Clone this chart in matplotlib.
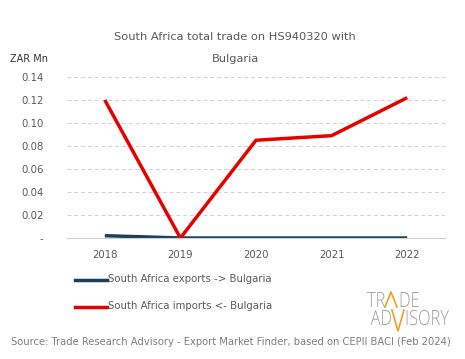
import matplotlib.pyplot as plt
from matplotlib.lines import Line2D
from matplotlib.textpath import TextPath
from matplotlib.patches import PathPatch
from matplotlib.font_manager import FontProperties
from matplotlib.transforms import Affine2D

years = ["2018", "2019", "2020", "2021", "2022"]
exports = [0.002, 0.0, 0.0, 0.0, 0.0]
imports = [0.120, 0.0, 0.085, 0.089, 0.122]
yticks = [0, 0.02, 0.04, 0.06, 0.08, 0.10, 0.12, 0.14]
ylabels = ["-", "0.02", "0.04", "0.06", "0.08", "0.10", "0.12", "0.14"]

plt.rcParams['font.family'] = ['DejaVu Sans']
txt = '#595959'
W, H = 465, 359


def fx(v):
    return v / W


def fy(v):
    return 1 - v / H


fig = plt.figure(figsize=(4.65, 3.59), dpi=100)
ax = fig.add_axes([fx(67), fy(238), 378 / W, 161 / H])

x = range(len(years))
ax.plot(x, exports, color='#1b3f5a', lw=2.5, solid_capstyle='butt')
ax.plot(x, imports, color='#e60000', lw=2.5, solid_capstyle='butt')

ax.set_xlim(-0.5, 4.5)
ax.set_ylim(0, 0.14)
ax.set_xticks(list(x))
ax.set_xticklabels(years)
ax.set_yticks(yticks)
ax.set_yticklabels(ylabels)
ax.tick_params(length=0, labelsize=7.3, colors=txt)
ax.tick_params(axis='x', pad=9)
ax.tick_params(axis='y', pad=17)
ax.grid(axis='y', color='#d0d0d0', ls=(0, (4, 3)), lw=0.7)
ax.set_axisbelow(True)
for s in ['top', 'right', 'left']:
    ax.spines[s].set_visible(False)
ax.spines['bottom'].set_color('#d0d0d0')
ax.spines['bottom'].set_linewidth(0.8)

fig.text(fx(235), fy(37), "South Africa total trade on HS940320 with",
         ha='center', va='center', fontsize=8.2, color=txt)
fig.text(fx(235), fy(59), "Bulgaria", ha='center', va='center',
         fontsize=8.2, color=txt)
fig.text(fx(10), fy(59), "ZAR Mn", ha='left', va='center',
         fontsize=7, color='#333333')

# legend
for yy, c, lab in [(280, '#1b3f5a', "South Africa exports -> Bulgaria"),
                   (307, '#e60000', "South Africa imports <- Bulgaria")]:
    fig.add_artist(Line2D([fx(75), fx(107)], [fy(yy), fy(yy)],
                          color=c, lw=2.5, transform=fig.transFigure))
    fig.text(fx(108), fy(yy - 1), lab, ha='left', va='center',
             fontsize=7.3, color=txt)

fig.text(fx(11), fy(342),
         "Source: Trade Research Advisory - Export Market Finder, based on CEPII BACI (Feb 2024)",
         ha='left', va='center', fontsize=7.2, color='#7f7f7f')

# logo: condensed light lettering drawn as paths
grey = '#a0a0a0'
orange = '#f0a020'
lprop = FontProperties(family='Open Sans', weight='light')


def logo_text(s, xpx, ypx, align='left'):
    tp = TextPath((0, 0), s, size=21, prop=lprop)
    sx = 0.78
    w = tp.get_extents().x1 * sx
    x0 = xpx - w if align == 'right' else xpx
    tr = Affine2D().scale(sx / W, 1 / H).translate(fx(x0), fy(ypx)) + fig.transFigure
    fig.add_artist(PathPatch(tp, facecolor=grey, edgecolor='none', transform=tr))


logo_text("TR", 385, 307, 'right')
logo_text("DE", 399, 307)
logo_text("AD", 391, 325, 'right')
logo_text("ISORY", 405, 325)
fig.add_artist(Line2D([fx(385), fx(391), fx(397)], [fy(307), fy(292), fy(307)],
                      color=orange, lw=1.2, transform=fig.transFigure))
fig.add_artist(Line2D([fx(392), fx(398), fx(404)], [fy(310), fy(331), fy(310)],
                      color=orange, lw=1.2, transform=fig.transFigure))

fig.savefig('out.png', dpi=100)
